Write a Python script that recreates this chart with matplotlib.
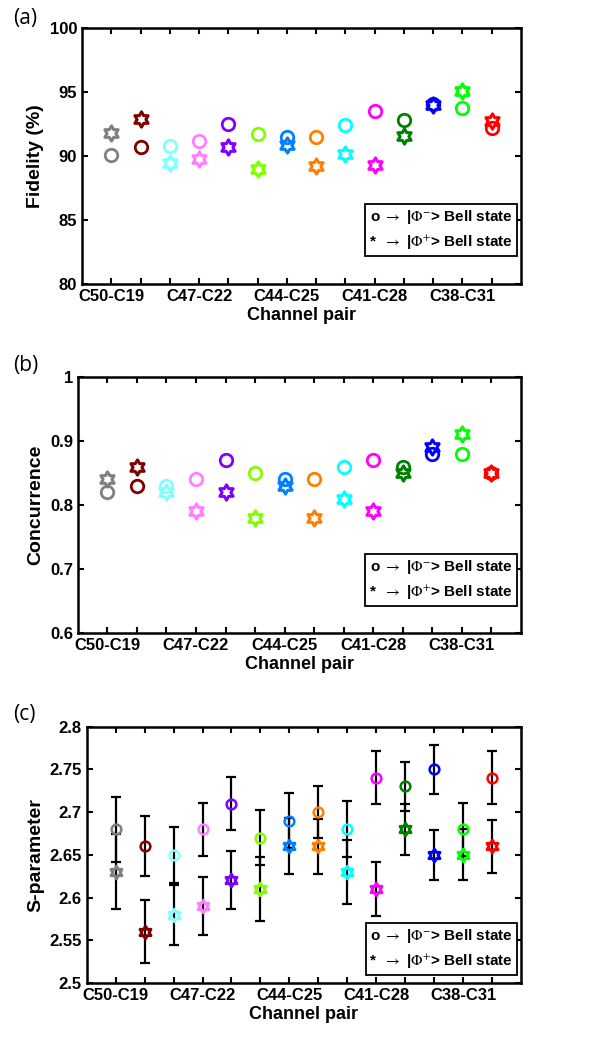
import matplotlib
matplotlib.use("Agg")
import matplotlib.pyplot as plt
from matplotlib.path import Path
import numpy as np

plt.rcParams['font.family'] = ['Liberation Sans', 'DejaVu Sans']
plt.rcParams['mathtext.fontset'] = 'stix'

pairs = ['C50-C19', 'C49-C20', 'C48-C21', 'C47-C22', 'C46-C23', 'C45-C24', 'C44-C25',
         'C43-C26', 'C42-C27', 'C41-C28', 'C40-C29', 'C39-C30', 'C38-C31', 'C37-C32']
colors = ['#808080', '#800000', '#80ffff', '#ff80ff', '#8000ff', '#80ff00', '#0080ff',
          '#ff8000', '#00ffff', '#ff00ff', '#008000', '#0000ff', '#00ff00', '#ff0000']

# fidelity (%)
fid_minus = [90.1, 90.7, 90.8, 91.2, 92.5, 91.7, 91.5, 91.5, 92.4, 93.5, 92.8, 94.1, 93.8, 92.2]
fid_plus = [91.8, 92.9, 89.5, 89.8, 90.7, 89.0, 90.9, 89.2, 90.2, 89.3, 91.6, 94.0, 95.1, 92.75]

# concurrence
conc_minus = [0.82, 0.83, 0.83, 0.84, 0.87, 0.85, 0.84, 0.84, 0.86, 0.87, 0.86, 0.88, 0.88, 0.85]
conc_plus = [0.84, 0.86, 0.82, 0.79, 0.82, 0.78, 0.83, 0.78, 0.81, 0.79, 0.85, 0.89, 0.91, 0.85]

# S-parameter with errors
s_minus = [2.68, 2.66, 2.65, 2.68, 2.71, 2.67, 2.69, 2.70, 2.68, 2.74, 2.73, 2.75, 2.68, 2.74]
s_minus_err = [0.038, 0.035, 0.033, 0.031, 0.031, 0.032, 0.032, 0.030, 0.033, 0.031, 0.029, 0.029, 0.031, 0.031]
s_plus = [2.63, 2.56, 2.58, 2.59, 2.62, 2.61, 2.66, 2.66, 2.63, 2.61, 2.68, 2.65, 2.65, 2.66]
s_plus_err = [0.044, 0.037, 0.035, 0.034, 0.034, 0.037, 0.033, 0.032, 0.037, 0.032, 0.030, 0.029, 0.030, 0.031]

x = np.arange(1, len(pairs) + 1)
hexagram = Path.unit_regular_star(6, 0.577)

legend_txt = ('o $\\rightarrow$ |$\\Phi^{-}$> Bell state\n'
              '*  $\\rightarrow$ |$\\Phi^{+}$> Bell state')


def style_axes(ax, ylim, yticks, ylabel, leg_y):
    ax.set_xlim(0, 15)
    ax.set_ylim(*ylim)
    ax.set_xticks(x)
    ax.set_xticklabels([p if i % 3 == 0 else '' for i, p in enumerate(pairs)])
    ax.set_yticks(yticks)
    ax.set_yticklabels(['%g' % v for v in yticks])
    ax.tick_params(direction='in', top=True, right=True, width=1.5, length=4,
                   labelsize=12)
    for lab in ax.get_xticklabels() + ax.get_yticklabels():
        lab.set_fontweight('bold')
    for sp in ax.spines.values():
        sp.set_linewidth(1.8)
    ax.set_ylabel(ylabel, fontsize=14, fontweight='bold')
    ax.set_xlabel('Channel pair', fontsize=13, fontweight='bold', labelpad=2)
    ax.text(0.982, leg_y, legend_txt, transform=ax.transAxes, ha='right', va='bottom',
            fontsize=11, fontweight='bold', linespacing=1.6,
            bbox=dict(boxstyle='square,pad=0.25', fc='white', ec='black', lw=1.3))


fig = plt.figure(figsize=(5.94, 10.38), dpi=100)
ax1 = fig.add_axes([0.138, 0.726, 0.739, 0.247])
ax2 = fig.add_axes([0.131, 0.390, 0.746, 0.247])
ax3 = fig.add_axes([0.146, 0.053, 0.731, 0.247])

for i in range(len(x)):
    ax1.plot(x[i], fid_plus[i], marker=hexagram, ms=11, mfc='none', mec=colors[i], mew=2.2, ls='none')
    ax1.plot(x[i], fid_minus[i], marker='o', ms=9, mfc='none', mec=colors[i], mew=2, ls='none')
    ax2.plot(x[i], conc_plus[i], marker=hexagram, ms=11, mfc='none', mec=colors[i], mew=2.2, ls='none')
    ax2.plot(x[i], conc_minus[i], marker='o', ms=9, mfc='none', mec=colors[i], mew=2, ls='none')
    ax3.errorbar(x[i], s_minus[i], yerr=s_minus_err[i], fmt='none', ecolor='black',
                 elinewidth=1.6, capsize=3.5, capthick=1.6)
    ax3.errorbar(x[i], s_plus[i], yerr=s_plus_err[i], fmt='none', ecolor='black',
                 elinewidth=1.6, capsize=3.5, capthick=1.6)
    ax3.plot(x[i], s_plus[i], marker=hexagram, ms=9, mfc='none', mec=colors[i], mew=2.2, ls='none', zorder=3)
    ax3.plot(x[i], s_minus[i], marker='o', ms=7, mfc='none', mec=colors[i], mew=1.8, ls='none', zorder=3)

style_axes(ax1, (80, 100), [80, 85, 90, 95, 100], 'Fidelity (%)', 0.125)
style_axes(ax2, (0.6, 1.0), [0.6, 0.7, 0.8, 0.9, 1.0], 'Concurrence', 0.12)
style_axes(ax3, (2.5, 2.8), [2.5, 2.55, 2.6, 2.65, 2.7, 2.75, 2.8], 'S-parameter', 0.045)

for lbl, yy in [('(a)', 0.982), ('(b)', 0.648), ('(c)', 0.312)]:
    fig.text(0.022, yy, lbl, fontsize=15, family='Open Sans', va='center')

fig.savefig('out.png', dpi=100)
